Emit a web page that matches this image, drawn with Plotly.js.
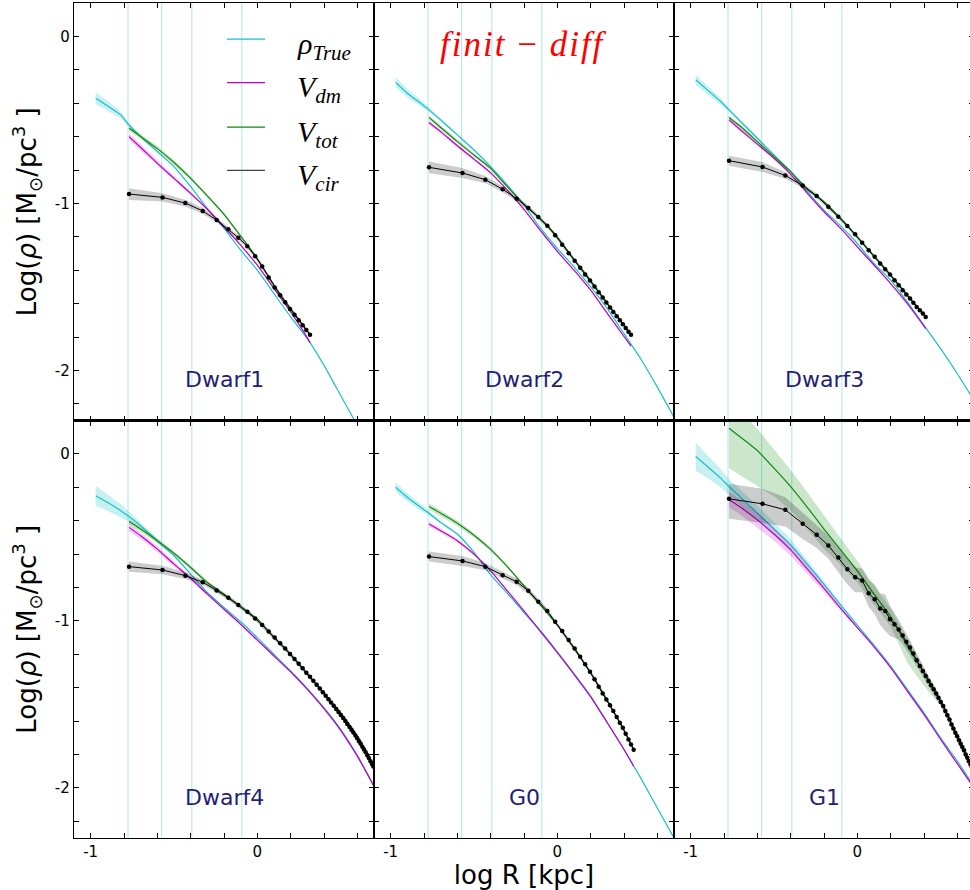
<!DOCTYPE html>
<html>
<head>
<meta charset="utf-8">
<script src="https://cdn.plot.ly/plotly-3.0.1.min.js"></script>
<style>
html, body { margin:0; padding:0; overflow:hidden; background:#fff; }
#chart { width:976px; height:890px; }
</style>
</head>
<body>
<div id="chart"></div>
<script>
// ---------------- DATA ----------------
const PANEL_NAMES = ['Dwarf1','Dwarf2','Dwarf3','Dwarf4','G0','G1'];
const SERIES_LABELS = ['<i>ρ</i><sub><i>True</i></sub>','<i>V</i><sub><i>dm</i></sub>','<i>V</i><sub><i>tot</i></sub>','<i>V</i><sub><i>cir</i></sub>'];
const METHOD_LABEL = '<i>finit</i> − <i>diff</i>';
const XTICKS = [-1, 0];
const XTICKTEXT = ['-1', '0'];
const YTICKS = [-2, -1, 0];
const YTICKTEXT = ['-2', '-1', '0'];
const VLINES = [-0.776, -0.574, -0.393, -0.093];

// log R sampling of the true profile
const R_TRUE = [-0.97,-0.9,-0.82,-0.77,-0.7,-0.6,-0.5,-0.4,-0.3,-0.2,-0.1,0,0.1,0.2,0.3,0.4,0.5,0.6,0.7];
// log R of the V_cir points
const R_CIR = [-0.770,-0.569,-0.432,-0.328,-0.244,-0.174,-0.114,-0.060,-0.013,0.029,0.068,0.104,0.137,0.167,0.196,0.223,0.248,0.272,0.294,0.316,0.336,0.356,0.375,0.393,0.410,0.427,0.442,0.458,0.473,0.487,0.501,0.515,0.528,0.540,0.553,0.565,0.576,0.588,0.599,0.610,0.620,0.630,0.640,0.650,0.660,0.669,0.679,0.688,0.696];

// Dwarf1
const D1_TRUE = [-0.37,-0.415,-0.47,-0.53,-0.60,-0.69,-0.78,-0.90,-1.03,-1.15,-1.28,-1.40,-1.54,-1.68,-1.81,-1.97,-2.15,-2.33,-2.52];
const D1_TRUE_ERR = [0.035,0.03,0.02,0.012,0.008,0.005,0.003,0.002,0,0,0,0,0,0,0,0,0,0,0];
const D1_MODEL_R = [-0.77,-0.7,-0.6,-0.5,-0.4,-0.3,-0.2,-0.1,0,0.1,0.2,0.3,0.316];
const D1_VDM = [-0.60,-0.665,-0.76,-0.85,-0.94,-1.035,-1.14,-1.25,-1.37,-1.51,-1.65,-1.805,-1.835];
const D1_VDM_ERR = [0.02,0.018,0.015,0.012,0.01,0.008,0.006,0.005,0.005,0.005,0.005,0.005,0.005];
const D1_VTOT = [-0.55,-0.60,-0.672,-0.755,-0.85,-0.955,-1.065,-1.195,-1.33,-1.49,-1.63,-1.765,-1.785];
const D1_VTOT_ERR = [0.015,0.015,0.015,0.015,0.012,0.01,0.01,0.008,0.008,0.008,0.008,0.008,0.008];
const D1_VCIR = [-0.944,-0.964,-0.998,-1.045,-1.10,-1.155,-1.205,-1.257,-1.316,-1.378,-1.443,-1.503,-1.55,-1.592,-1.632,-1.667,-1.70,-1.73,-1.758,-1.786];
const D1_VCIR_ERR = [0.035,0.025,0.02,0.018,0.015,0.015,0.013,0.012,0.012,0.012,0.012,0.012,0.012,0.012,0.012,0.012,0.012,0.012,0.012,0.012];

// Dwarf2
const D2_TRUE = [-0.275,-0.34,-0.40,-0.44,-0.50,-0.59,-0.68,-0.78,-0.89,-1.01,-1.15,-1.27,-1.38,-1.50,-1.63,-1.78,-1.93,-2.10,-2.28];
const D2_TRUE_ERR = [0.03,0.025,0.02,0.012,0.008,0.005,0.003,0.002,0,0,0,0,0,0,0,0,0,0,0];
const D2_MODEL_R = [-0.77,-0.7,-0.6,-0.5,-0.4,-0.3,-0.2,-0.1,0,0.1,0.2,0.3,0.4,0.442];
const D2_VDM = [-0.515,-0.57,-0.655,-0.735,-0.817,-0.92,-1.036,-1.165,-1.287,-1.40,-1.52,-1.659,-1.797,-1.855];
const D2_VDM_ERR = [0.012,0.01,0.01,0.008,0.006,0.005,0.005,0.004,0.004,0.004,0.004,0.004,0.004,0.004];
const D2_VTOT = [-0.485,-0.545,-0.63,-0.71,-0.79,-0.90,-1.005,-1.095,-1.20,-1.335,-1.462,-1.60,-1.73,-1.785];
const D2_VTOT_ERR = [0.012,0.012,0.01,0.01,0.01,0.008,0.008,0.008,0.008,0.008,0.008,0.008,0.008,0.008];
const D2_VCIR = [-0.784,-0.818,-0.858,-0.915,-0.972,-1.028,-1.082,-1.134,-1.19,-1.248,-1.298,-1.344,-1.386,-1.425,-1.462,-1.498,-1.532,-1.564,-1.594,-1.624,-1.65,-1.676,-1.70,-1.724,-1.746,-1.768,-1.787];
const D2_VCIR_ERR = [0.035,0.03,0.022,0.018,0.016,0.015,0.014,0.013,0.012,0.012,0.012,0.012,0.012,0.012,0.012,0.012,0.012,0.012,0.012,0.012,0.012,0.012,0.012,0.012,0.012,0.012,0.012];

// Dwarf3
const D3_TRUE = [-0.26,-0.32,-0.39,-0.44,-0.51,-0.61,-0.71,-0.81,-0.93,-1.04,-1.135,-1.24,-1.36,-1.46,-1.59,-1.73,-1.87,-2.02,-2.18];
const D3_TRUE_ERR = [0.03,0.025,0.02,0.012,0.008,0.005,0.003,0.002,0,0,0,0,0,0,0,0,0,0,0];
const D3_MODEL_R = [-0.77,-0.7,-0.6,-0.5,-0.4,-0.3,-0.2,-0.1,0,0.1,0.2,0.3,0.4,0.41];
const D3_VDM = [-0.50,-0.56,-0.645,-0.73,-0.825,-0.94,-1.05,-1.15,-1.26,-1.37,-1.48,-1.60,-1.735,-1.75];
const D3_VDM_ERR = [0.012,0.01,0.01,0.008,0.006,0.005,0.005,0.004,0.004,0.004,0.004,0.004,0.004,0.004];
const D3_VTOT = [-0.485,-0.54,-0.63,-0.72,-0.81,-0.915,-0.99,-1.09,-1.20,-1.316,-1.43,-1.55,-1.67,-1.68];
const D3_VTOT_ERR = [0.01,0.01,0.01,0.008,0.008,0.008,0.008,0.008,0.008,0.008,0.008,0.008,0.008,0.008];
const D3_VCIR = [-0.744,-0.782,-0.833,-0.893,-0.955,-1.02,-1.08,-1.135,-1.185,-1.235,-1.28,-1.32,-1.36,-1.395,-1.425,-1.46,-1.49,-1.52,-1.545,-1.57,-1.595,-1.62,-1.64,-1.66,-1.68];
const D3_VCIR_ERR = [0.03,0.03,0.02,0.015,0.014,0.013,0.012,0.012,0.012,0.012,0.012,0.012,0.012,0.012,0.012,0.012,0.012,0.012,0.012,0.012,0.012,0.012,0.012,0.012,0.012];

// Dwarf4
const D4_TRUE = [-0.25,-0.29,-0.34,-0.375,-0.43,-0.52,-0.61,-0.72,-0.83,-0.92,-1.005,-1.10,-1.20,-1.30,-1.405,-1.52,-1.65,-1.805,-1.99];
const D4_TRUE_ERR = [0.06,0.05,0.04,0.03,0.02,0.012,0.006,0.003,0,0,0,0,0,0,0,0,0,0,0];
const D4_MODEL_R = [-0.77,-0.7,-0.6,-0.5,-0.4,-0.3,-0.2,-0.1,0,0.1,0.2,0.3,0.4,0.5,0.6,0.7];
const D4_VDM = [-0.44,-0.49,-0.57,-0.66,-0.745,-0.84,-0.93,-1.02,-1.115,-1.21,-1.305,-1.41,-1.525,-1.655,-1.81,-1.99];
const D4_VDM_ERR = [0.025,0.02,0.018,0.015,0.012,0.01,0.008,0.006,0.005,0.005,0.005,0.005,0.005,0.005,0.005,0.005];
const D4_VTOT = [-0.405,-0.45,-0.52,-0.595,-0.68,-0.77,-0.84,-0.915,-0.99,-1.10,-1.20,-1.32,-1.435,-1.55,-1.69,-1.87];
const D4_VTOT_ERR = [0.015,0.015,0.015,0.012,0.012,0.01,0.01,0.01,0.01,0.01,0.01,0.01,0.01,0.01,0.01,0.01];
const D4_VCIR = [-0.675,-0.695,-0.729,-0.768,-0.818,-0.862,-0.905,-0.945,-0.985,-1.025,-1.063,-1.10,-1.134,-1.166,-1.198,-1.228,-1.257,-1.284,-1.31,-1.335,-1.358,-1.382,-1.405,-1.427,-1.448,-1.469,-1.488,-1.508,-1.527,-1.545,-1.563,-1.582,-1.60,-1.617,-1.635,-1.652,-1.668,-1.686,-1.703,-1.72,-1.736,-1.753,-1.77,-1.787,-1.805,-1.821,-1.84,-1.857,-1.872];
const D4_VCIR_ERR = [0.03,0.025,0.02,0.016,0.015,0.015,0.015,0.015,0.015,0.015,0.015,0.015,0.015,0.015,0.015,0.015,0.015,0.015,0.015,0.015,0.015,0.015,0.015,0.015,0.015,0.015,0.015,0.015,0.015,0.015,0.015,0.015,0.015,0.015,0.015,0.015,0.015,0.015,0.015,0.015,0.015,0.015,0.015,0.015,0.015,0.015,0.015,0.015,0.015];

// G0
const G0_TRUE = [-0.20,-0.26,-0.32,-0.355,-0.41,-0.48,-0.59,-0.725,-0.835,-0.95,-1.06,-1.185,-1.315,-1.45,-1.61,-1.77,-1.94,-2.12,-2.30];
const G0_TRUE_ERR = [0.03,0.025,0.02,0.012,0.008,0.005,0.003,0.002,0,0,0,0,0,0,0,0,0,0,0];
const G0_MODEL_R = [-0.77,-0.7,-0.6,-0.5,-0.4,-0.3,-0.2,-0.1,0,0.1,0.2,0.3,0.4,0.458];
const G0_VDM = [-0.42,-0.46,-0.52,-0.60,-0.70,-0.82,-0.94,-1.065,-1.19,-1.32,-1.455,-1.61,-1.77,-1.87];
const G0_VDM_ERR = [0.015,0.012,0.01,0.008,0.006,0.005,0.005,0.004,0.004,0.004,0.004,0.004,0.004,0.004];
const G0_VTOT = [-0.315,-0.355,-0.415,-0.487,-0.572,-0.675,-0.79,-0.905,-1.025,-1.165,-1.31,-1.475,-1.655,-1.77];
const G0_VTOT_ERR = [0.02,0.018,0.016,0.014,0.012,0.01,0.01,0.01,0.01,0.01,0.01,0.01,0.01,0.01];
const G0_VCIR = [-0.615,-0.641,-0.675,-0.726,-0.766,-0.82,-0.885,-0.94,-1.005,-1.06,-1.115,-1.165,-1.215,-1.26,-1.305,-1.35,-1.395,-1.435,-1.47,-1.505,-1.54,-1.575,-1.61,-1.64,-1.675,-1.71,-1.74,-1.772];
const G0_VCIR_ERR = [0.03,0.03,0.022,0.02,0.02,0.018,0.015,0.014,0.013,0.012,0.012,0.012,0.012,0.012,0.012,0.012,0.012,0.012,0.012,0.012,0.012,0.012,0.012,0.012,0.012,0.012,0.012,0.012];

// G1
const G1_TRUE = [-0.016,-0.075,-0.145,-0.196,-0.26,-0.355,-0.45,-0.545,-0.66,-0.78,-0.905,-1.025,-1.145,-1.27,-1.41,-1.55,-1.70,-1.84,-1.99];
const G1_TRUE_ERR = [0.085,0.07,0.055,0.045,0.045,0.045,0.04,0.035,0.025,0.015,0.006,0.003,0,0,0,0,0,0,0];
const G1_MODEL_R = [-0.77,-0.7,-0.6,-0.5,-0.4,-0.3,-0.2,-0.1,0,0.1,0.2,0.3,0.4,0.5,0.6,0.7];
const G1_VDM = [-0.273,-0.32,-0.395,-0.48,-0.575,-0.69,-0.805,-0.925,-1.04,-1.155,-1.28,-1.42,-1.56,-1.71,-1.855,-2.0];
const G1_VDM_ERR = [0.045,0.045,0.045,0.04,0.035,0.03,0.02,0.01,0.005,0.003,0.003,0.003,0.003,0.003,0.003,0.003];
const G1_VTOT = [0.154,0.10,0.02,-0.085,-0.196,-0.32,-0.45,-0.575,-0.70,-0.84,-0.975,-1.15,-1.31,-1.48,-1.69,-1.90];
const G1_VTOT_UP = [0.15,0.15,0.13,0.11,0.10,0.09,0.08,0.07,0.06,0.05,0.05,0.05,0.03,0.02,0.02,0.02];
const G1_VTOT_DN = [0.24,0.23,0.21,0.17,0.14,0.13,0.12,0.09,0.07,0.06,0.06,0.10,0.08,0.03,0.02,0.02];
const G1_VCIR = [-0.269,-0.299,-0.335,-0.419,-0.484,-0.548,-0.62,-0.69,-0.738,-0.758,-0.835,-0.87,-0.925,-0.94,-0.99,-1.02,-1.052,-1.088,-1.125,-1.16,-1.195,-1.235,-1.27,-1.30,-1.33,-1.36,-1.385,-1.41,-1.435,-1.46,-1.485,-1.51,-1.54,-1.565,-1.59,-1.62,-1.645,-1.67,-1.69,-1.715,-1.735,-1.755,-1.775,-1.80,-1.82,-1.84,-1.86,-1.88,-1.90];
const G1_VCIR_UP = [0.09,0.09,0.075,0.065,0.06,0.06,0.06,0.06,0.06,0.07,0.08,0.09,0.09,0.10,0.08,0.07,0.06,0.05,0.05,0.045,0.04,0.04,0.035,0.035,0.03,0.03,0.03,0.03,0.025,0.025,0.025,0.025,0.025,0.025,0.025,0.025,0.025,0.025,0.025,0.025,0.025,0.025,0.025,0.025,0.025,0.025,0.025,0.025,0.025];
const G1_VCIR_DN = [0.12,0.115,0.10,0.09,0.08,0.08,0.085,0.09,0.09,0.07,0.08,0.09,0.10,0.12,0.10,0.08,0.06,0.05,0.05,0.045,0.04,0.04,0.035,0.035,0.03,0.03,0.03,0.03,0.025,0.025,0.025,0.025,0.025,0.025,0.025,0.025,0.025,0.025,0.025,0.025,0.025,0.025,0.025,0.025,0.025,0.025,0.025,0.025,0.025];

// ---------------- STYLE ----------------
const C_TRUE = '#17bfcc', C_DM = '#c000c0', C_TOT = '#108a10', C_CIR = '#000000';
const F_TRUE = 'rgba(0,191,191,0.22)', F_DM = 'rgba(191,0,191,0.2)', F_TOT = 'rgba(0,128,0,0.2)', F_CIR = 'rgba(0,0,0,0.2)';
const LABEL_COLOR = '#1f1f78';

const PANELS = [
  {tru:D1_TRUE, truE:D1_TRUE_ERR, mr:D1_MODEL_R, dm:D1_VDM, dmE:D1_VDM_ERR, tot:D1_VTOT, totU:D1_VTOT_ERR, totD:D1_VTOT_ERR, cir:D1_VCIR, cirU:D1_VCIR_ERR, cirD:D1_VCIR_ERR},
  {tru:D2_TRUE, truE:D2_TRUE_ERR, mr:D2_MODEL_R, dm:D2_VDM, dmE:D2_VDM_ERR, tot:D2_VTOT, totU:D2_VTOT_ERR, totD:D2_VTOT_ERR, cir:D2_VCIR, cirU:D2_VCIR_ERR, cirD:D2_VCIR_ERR},
  {tru:D3_TRUE, truE:D3_TRUE_ERR, mr:D3_MODEL_R, dm:D3_VDM, dmE:D3_VDM_ERR, tot:D3_VTOT, totU:D3_VTOT_ERR, totD:D3_VTOT_ERR, cir:D3_VCIR, cirU:D3_VCIR_ERR, cirD:D3_VCIR_ERR},
  {tru:D4_TRUE, truE:D4_TRUE_ERR, mr:D4_MODEL_R, dm:D4_VDM, dmE:D4_VDM_ERR, tot:D4_VTOT, totU:D4_VTOT_ERR, totD:D4_VTOT_ERR, cir:D4_VCIR, cirU:D4_VCIR_ERR, cirD:D4_VCIR_ERR},
  {tru:G0_TRUE, truE:G0_TRUE_ERR, mr:G0_MODEL_R, dm:G0_VDM, dmE:G0_VDM_ERR, tot:G0_VTOT, totU:G0_VTOT_ERR, totD:G0_VTOT_ERR, cir:G0_VCIR, cirU:G0_VCIR_ERR, cirD:G0_VCIR_ERR},
  {tru:G1_TRUE, truE:G1_TRUE_ERR, mr:G1_MODEL_R, dm:G1_VDM, dmE:G1_VDM_ERR, tot:G1_VTOT, totU:G1_VTOT_UP, totD:G1_VTOT_DN, cir:G1_VCIR, cirU:G1_VCIR_UP, cirD:G1_VCIR_DN}
];

function band(xs, ys, up, dn, fill, xa, ya) {
  const hi = ys.map((v, i) => v + up[i]);
  const lo = ys.map((v, i) => v - dn[i]);
  return {x: xs.concat(xs.slice().reverse()), y: hi.concat(lo.slice().reverse()),
    mode: 'lines', fill: 'toself', fillcolor: fill, line: {width: 0},
    hoverinfo: 'skip', showlegend: false, xaxis: xa, yaxis: ya};
}
function line(xs, ys, color, xa, ya, markers) {
  return {x: xs, y: ys, mode: markers ? 'lines+markers' : 'lines',
    line: {color: color, width: markers ? 1 : 1.2, shape: markers ? 'linear' : 'spline', smoothing: 0.6},
    marker: {color: color, size: 4.5}, showlegend: false, xaxis: xa, yaxis: ya};
}

const traces = [];
const shapes = [];
const annotations = [];
PANELS.forEach((p, k) => {
  const s = k === 0 ? '' : String(k + 1);
  const xa = 'x' + s, ya = 'y' + s;
  const rc = R_CIR.slice(0, p.cir.length);
  traces.push(band(R_TRUE, p.tru, p.truE, p.truE, F_TRUE, xa, ya));
  traces.push(line(R_TRUE, p.tru, C_TRUE, xa, ya, false));
  traces.push(band(p.mr, p.dm, p.dmE, p.dmE, F_DM, xa, ya));
  traces.push(line(p.mr, p.dm, C_DM, xa, ya, false));
  traces.push(band(p.mr, p.tot, p.totU, p.totD, F_TOT, xa, ya));
  traces.push(line(p.mr, p.tot, C_TOT, xa, ya, false));
  traces.push(band(rc, p.cir, p.cirU, p.cirD, F_CIR, xa, ya));
  traces.push(line(rc, p.cir, C_CIR, xa, ya, true));
  VLINES.forEach(v => shapes.push({type: 'line', xref: xa, yref: ya + ' domain', x0: v, x1: v, y0: 0, y1: 1,
    line: {color: '#aee6ea', width: 1}, layer: 'below'}));
  annotations.push({xref: xa, yref: ya, x: -0.2, y: -2.055, text: PANEL_NAMES[k], showarrow: false,
    xanchor: 'center', yanchor: 'middle', font: {family: 'DejaVu Sans', size: 22, color: LABEL_COLOR}});
});

// legend drawn in panel 1
const LEG_COLORS = [C_TRUE, C_DM, C_TOT, '#444444'];
const LEG_Y = [-0.016, -0.277, -0.543, -0.802];
SERIES_LABELS.forEach((t, i) => {
  shapes.push({type: 'line', xref: 'x', yref: 'y', x0: -0.182, x1: 0.046, y0: LEG_Y[i], y1: LEG_Y[i],
    line: {color: LEG_COLORS[i], width: 1.2}});
  annotations.push({xref: 'x', yref: 'y', x: 0.225, y: LEG_Y[i] - 0.04, text: t, showarrow: false,
    xanchor: 'left', yanchor: 'middle', font: {family: 'Liberation Serif', size: 30, color: '#000'}});
});
annotations.push({xref: 'x2', yref: 'y2', x: -0.2, y: -0.05, text: METHOD_LABEL, showarrow: false,
  xanchor: 'center', yanchor: 'middle', font: {family: 'Liberation Serif', size: 35, color: '#ff0000'}});

const tickFont = {family: 'DejaVu Sans', size: 15, color: '#000'};
function xAxis(domain, anchor, labels, title) {
  const a = {domain: domain, anchor: anchor, range: [-1.1, 0.7], tickmode: 'array', tickvals: XTICKS, ticktext: XTICKTEXT,
    ticks: 'inside', ticklen: 5, tickwidth: 1, tickcolor: '#000', showline: true, linecolor: '#000', linewidth: 1.3,
    mirror: 'ticks', showgrid: false, zeroline: false, showticklabels: labels, tickfont: tickFont,
    minor: {tickmode: 'linear', tick0: 0, dtick: 0.2, ticks: 'inside', ticklen: 5, tickwidth: 1, tickcolor: '#000', showgrid: false}};
  if (title) a.title = {text: title, font: {family: 'DejaVu Sans', size: 26, color: '#000'}, standoff: 4};
  return a;
}
function yAxis(domain, anchor, labels, title) {
  const a = {domain: domain, anchor: anchor, range: [-2.3, 0.2], tickmode: 'array', tickvals: YTICKS, ticktext: YTICKTEXT,
    ticks: 'inside', ticklen: 5, tickwidth: 1, tickcolor: '#000', showline: true, linecolor: '#000', linewidth: 1.3,
    mirror: 'ticks', showgrid: false, zeroline: false, showticklabels: labels, tickfont: tickFont,
    minor: {tickmode: 'linear', tick0: 0, dtick: 0.2, ticks: 'inside', ticklen: 5, tickwidth: 1, tickcolor: '#000', showgrid: false}};
  if (title) a.title = {text: title, font: {family: 'DejaVu Sans', size: 26, color: '#000'}, standoff: 10};
  return a;
}
const YTITLE = 'Log(<i>ρ</i>) [M<sub>⊙</sub>/pc<sup>3</sup> ]';
const c1 = [0, 1/3], c2 = [1/3, 2/3], c3 = [2/3, 1], rTop = [0.5, 1], rBot = [0, 0.5];
const layout = {
  width: 976, height: 890,
  margin: {l: 74, r: 2, t: 3, b: 52},
  paper_bgcolor: '#fff', plot_bgcolor: '#fff',
  showlegend: false,
  xaxis: xAxis(c1, 'y', false), yaxis: yAxis(rTop, 'x', true, YTITLE),
  xaxis2: xAxis(c2, 'y2', false), yaxis2: yAxis(rTop, 'x2', false),
  xaxis3: xAxis(c3, 'y3', false), yaxis3: yAxis(rTop, 'x3', false),
  xaxis4: xAxis(c1, 'y4', true), yaxis4: yAxis(rBot, 'x4', true, YTITLE),
  xaxis5: xAxis(c2, 'y5', true, 'log R [kpc]'), yaxis5: yAxis(rBot, 'x5', false),
  xaxis6: xAxis(c3, 'y6', true), yaxis6: yAxis(rBot, 'x6', false),
  shapes: shapes, annotations: annotations
};
Plotly.newPlot('chart', traces, layout, {displayModeBar: false, staticPlot: true}).then(() => {
  document.querySelectorAll('#chart text.annotation-text').forEach(t => {
    if (t.textContent.indexOf('finit') >= 0) t.style.letterSpacing = '2px';
  });
});
</script>
</body>
</html>
